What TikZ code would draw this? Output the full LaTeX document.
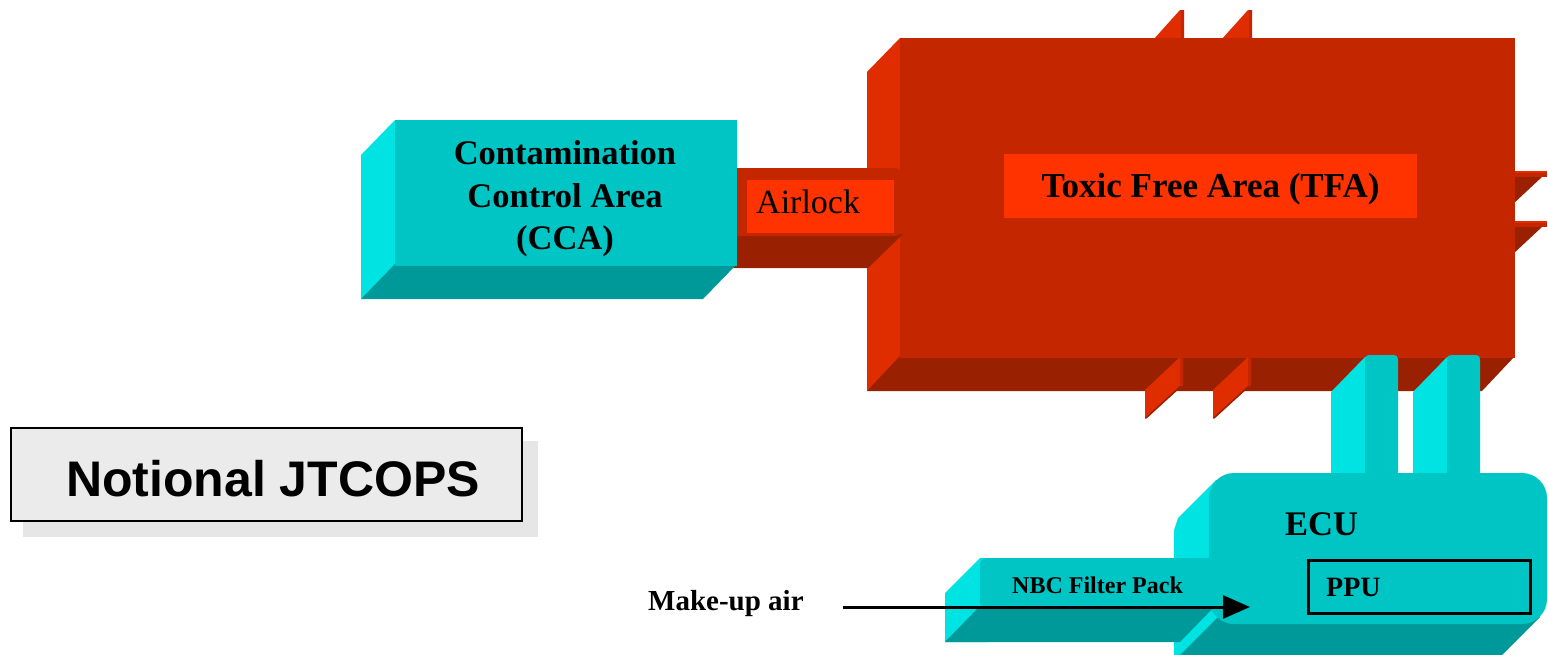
\documentclass[tikz,border=0pt]{standalone}
\usepackage{fontspec}
\setmainfont{Liberation Serif}
\newfontfamily\labelsans{Liberation Sans}
\usetikzlibrary{arrows.meta}
\definecolor{redfront}{HTML}{C42600}
\definecolor{redside}{HTML}{E02D00}
\definecolor{reddark}{HTML}{992000}
\definecolor{redlabel}{HTML}{FF3300}
\definecolor{cyanfront}{HTML}{00C5C5}
\definecolor{cyanside}{HTML}{00E3E3}
\definecolor{cyandark}{HTML}{009999}
\definecolor{greybox}{HTML}{EBEBEB}
\definecolor{greyshadow}{HTML}{E6E6E6}
\tikzset{
  bigbold/.style={inner sep=0pt, font=\fontsize{34.5}{42.5}\selectfont\bfseries},
  bigplain/.style={inner sep=0pt, font=\fontsize{34}{40}\selectfont},
  midbold/.style={inner sep=0pt, font=\fontsize{28}{32}\selectfont\bfseries},
  smallbold/.style={inner sep=0pt, font=\fontsize{24}{28}\selectfont\bfseries},
  titlefont/.style={inner sep=0pt, font=\labelsans\bfseries\fontsize{50}{60}\selectfont},
  flowarrow/.style={line width=3pt, -{Triangle[length=27pt,width=23pt]}}
}
\begin{document}
\begin{tikzpicture}[x=1pt,y=-1pt]
\useasboundingbox (0,0) rectangle (1548,654);
\clip (0,0) rectangle (1548,654);
\fill[white] (0,0) rectangle (1548,654);

% ---- TFA top fins (behind)
\foreach \dx in {0,68} {
  \fill[redside] (1153+\dx,40) -- (1180+\dx,10) -- (1184+\dx,10) -- (1184+\dx,40) -- cycle;
  \fill[redfront] (1181+\dx,10) rectangle (1184+\dx,40);
}
% ---- TFA right fins
\foreach \dy in {0,50} {
  \fill[reddark] (1513,176+\dy) -- (1543,176+\dy) -- (1513,204+\dy) -- cycle;
  \fill[redfront] (1513,171+\dy) rectangle (1547,177+\dy);
  \fill[redside] (1513,171+\dy) rectangle (1547,173+\dy);
}
% ---- TFA body
\fill[redside] (867,72) -- (900,38) -- (904,38) -- (904,358) -- (867,391) -- cycle;
\fill[reddark] (900,356) -- (1515,356) -- (1482,391) -- (867,391) -- cycle;
\fill[redfront] (900,38) rectangle (1515,358);
% ---- TFA bottom fins
\foreach \dx in {0,68} {
  \fill[redside] (1145+\dx,390) -- (1180+\dx,357) -- (1183+\dx,357) -- (1183+\dx,385) -- (1145+\dx,419) -- cycle;
  \draw[reddark, line width=1.5pt] (1146+\dx,418) -- (1181+\dx,386);
  \fill[redfront] (1180+\dx,357) rectangle (1183+\dx,385);
}
% ---- pipes to the ECU
\foreach \dx in {0,82} {
  \fill[cyanside] (1331+\dx,392) -- (1365+\dx,357) -- (1372+\dx,357) -- (1372+\dx,475) -- (1331+\dx,475) -- cycle;
  \fill[cyanfront, rounded corners=4pt] (1365+\dx,355) rectangle (1398+\dx,476);
}
% ---- Airlock
\fill[reddark] (730,234) -- (903,234) -- (868,268) -- (730,268) -- cycle;
\fill[redfront, rounded corners=8pt] (728,168) rectangle (903,236);
\fill[redlabel] (747,180) rectangle (894,233);
% ---- CCA
\fill[cyanside] (361,155) -- (395,120) -- (399,120) -- (399,266) -- (361,299) -- cycle;
\fill[cyandark] (395,264) -- (737,264) -- (703,299) -- (361,299) -- cycle;
\fill[cyanfront] (395,120) rectangle (737,266);
% ---- ECU
\fill[cyanside] (1174,530) -- (1178,518) -- (1216,480) -- (1240,480) -- (1240,640) -- (1200,660) -- (1174,660) -- cycle;
\fill[cyandark] (1218,617) -- (1218,595) -- (1540,595) -- (1540,617) -- (1500,657) -- (1178,657) -- cycle;
\fill[cyanfront, rounded corners=25pt] (1209,473) rectangle (1547,624);
% ---- NBC filter pack
\fill[cyanside] (945,593) -- (980,558) -- (988,558) -- (988,642) -- (945,642) -- cycle;
\fill[cyandark] (980,606) -- (1215,606) -- (1180,642) -- (945,642) -- cycle;
\fill[cyanfront, rounded corners=5pt] (980,558) rectangle (1215,608);

% ---- title box
\fill[greyshadow] (23,441) rectangle (538,537);
\node[draw, line width=2pt, fill=greybox, minimum width=511pt, minimum height=93pt,
      anchor=north west, inner sep=0pt] (titlebox) at (9.5,427) {};
\node[titlefont, anchor=base] (titletext) at (273,496) {Notional JTCOPS};

% ---- labels
\node[bigbold, align=center] (ccatext) at (565,199) {Contamination\\Control Area\\(CCA)};
\node[bigplain, anchor=base west] (airlocktext) at (756,213) {Airlock};
\node[fill=redlabel, minimum width=413pt, minimum height=64pt, text height=23pt, text depth=0pt,
      inner sep=0pt, font=\fontsize{35}{42}\selectfont\bfseries] (tfalabel) at (1210.5,186) {Toxic Free Area (TFA)};
\node[bigbold, anchor=base west] (ecutext) at (1285,535) {ECU};
\node[draw, line width=2.5pt, minimum width=222pt, minimum height=53pt, anchor=north west,
      inner sep=0pt] (ppubox) at (1307,559) {};
\node[midbold, anchor=base west] (pputext) at (1326,596) {PPU};
\node[smallbold, anchor=base west] (nbctext) at (1012,593) {NBC Filter Pack};
\node[inner sep=0pt, font=\fontsize{29}{33}\selectfont\bfseries, anchor=base west] (makeuptext) at (648,610) {Make-up air};

% ---- make-up air arrow
\coordinate (airstart) at (843,607);
\coordinate (airend) at (1250,607);
\draw[flowarrow] (airstart) -- (airend);
\end{tikzpicture}
\end{document}
